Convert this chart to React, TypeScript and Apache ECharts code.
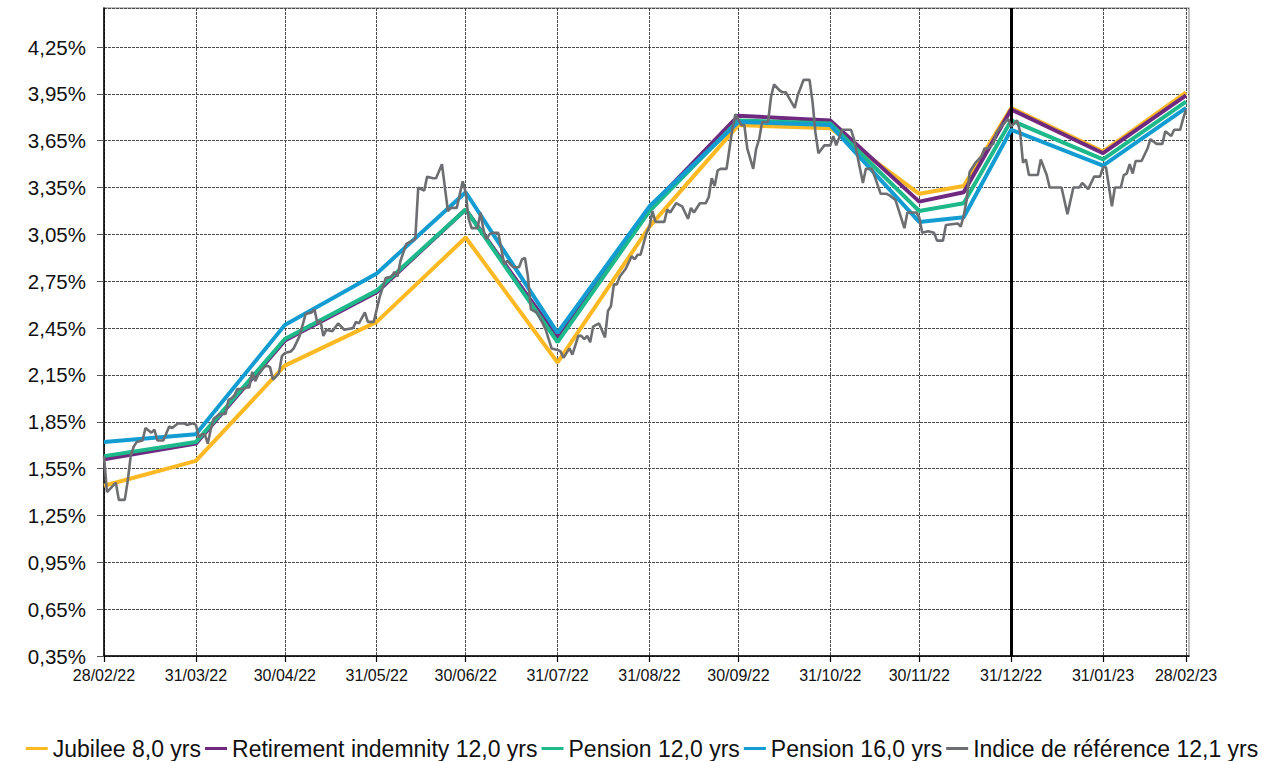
import React, { useEffect, useRef } from "react";
import * as echarts from "echarts";

// ---- Data ----
const tickLabels = [
  "28/02/22", "31/03/22", "30/04/22", "31/05/22", "30/06/22", "31/07/22",
  "31/08/22", "30/09/22", "31/10/22", "30/11/22", "31/12/22", "31/01/23", "28/02/23",
];

const modelDates = [
  "28/02/22", "31/03/22", "30/04/22", "31/05/22", "30/06/22", "31/07/22", "31/08/22",
  "30/09/22", "31/10/22", "30/11/22", "15/12/22", "31/12/22", "31/01/23", "28/02/23",
];
const jubilee = [1.44, 1.60, 2.21, 2.49, 3.03, 2.23, 3.10, 3.75, 3.73, 3.31, 3.36, 3.86, 3.58, 3.96];
const retirement = [1.61, 1.71, 2.37, 2.68, 3.21, 2.39, 3.22, 3.81, 3.78, 3.26, 3.32, 3.85, 3.57, 3.94];
const pension12 = [1.63, 1.72, 2.38, 2.69, 3.21, 2.36, 3.20, 3.78, 3.76, 3.20, 3.25, 3.78, 3.53, 3.90];
const pension16 = [1.72, 1.77, 2.47, 2.80, 3.32, 2.42, 3.23, 3.77, 3.75, 3.13, 3.16, 3.72, 3.49, 3.86];

// reference index: [days since 28/02/22, yield %]
const indexPoints: [number, number][] = [
  [0, 1.63], [1, 1.40], [3, 1.44], [4, 1.46], [5, 1.35], [7, 1.35], [8, 1.47], [9, 1.63], [10, 1.69], [11, 1.72],
  [13, 1.73], [14, 1.81], [16, 1.78], [17, 1.80], [18, 1.73], [20, 1.73], [22, 1.82], [23, 1.81], [25, 1.84], [27, 1.84],
  [28, 1.83], [30, 1.84], [31, 1.83], [32, 1.75], [33, 1.77], [34, 1.77], [35, 1.71], [36, 1.80], [37, 1.87], [39, 1.90],
  [41, 1.90], [42, 1.99], [43, 2.00], [44, 2.02], [45, 2.06], [47, 2.06], [48, 2.07], [49, 2.07], [50, 2.17], [51, 2.11],
  [52, 2.15], [54, 2.20], [55, 2.21], [56, 2.20], [57, 2.12], [59, 2.16], [60, 2.27], [61, 2.29], [63, 2.30], [64, 2.32],
  [66, 2.40], [68, 2.54], [70, 2.55], [71, 2.57], [72, 2.48], [73, 2.50], [74, 2.40], [75, 2.44], [77, 2.43], [79, 2.48],
  [81, 2.44], [84, 2.45], [85, 2.49], [86, 2.48], [88, 2.55], [89, 2.49], [91, 2.49], [93, 2.65], [95, 2.77], [97, 2.78],
  [98, 2.81], [99, 2.78], [100, 2.88], [102, 2.99], [104, 3.01], [105, 3.02], [106, 3.35], [108, 3.33], [109, 3.42], [111, 3.41],
  [112, 3.41], [114, 3.50], [116, 3.20], [117, 3.22], [119, 3.22], [121, 3.39], [122, 3.32], [123, 3.15], [124, 3.09], [126, 3.09],
  [127, 3.19], [128, 3.08], [129, 3.02], [130, 3.05], [131, 3.06], [133, 3.06], [135, 2.86], [136, 2.88], [138, 2.84], [140, 2.84],
  [141, 2.89], [142, 2.90], [143, 2.78], [144, 2.57], [146, 2.55], [148, 2.48], [149, 2.44], [150, 2.38], [151, 2.32], [153, 2.31],
  [154, 2.30], [155, 2.26], [156, 2.29], [157, 2.32], [158, 2.28], [160, 2.40], [161, 2.40], [162, 2.38], [163, 2.40], [164, 2.36],
  [165, 2.46], [166, 2.47], [167, 2.48], [169, 2.39], [170, 2.56], [171, 2.59], [172, 2.73], [173, 2.73], [174, 2.78], [176, 2.83],
  [178, 2.91], [179, 2.89], [180, 2.92], [181, 2.92], [183, 3.06], [184, 3.10], [185, 3.20], [186, 3.13], [189, 3.13], [190, 3.21],
  [191, 3.19], [193, 3.25], [195, 3.23], [197, 3.15], [198, 3.22], [199, 3.19], [201, 3.25], [203, 3.25], [204, 3.29], [205, 3.41],
  [206, 3.36], [207, 3.46], [208, 3.47], [210, 3.47], [211, 3.60], [212, 3.73], [213, 3.82], [215, 3.75], [216, 3.75], [217, 3.60],
  [219, 3.47], [220, 3.60], [221, 3.66], [222, 3.77], [224, 3.77], [225, 3.93], [226, 4.01], [228, 3.97], [229, 3.96], [230, 3.96],
  [233, 3.86], [234, 3.94], [236, 4.04], [238, 4.04], [239, 3.90], [240, 3.70], [241, 3.57], [243, 3.62], [245, 3.62], [246, 3.68],
  [247, 3.62], [249, 3.72], [252, 3.72], [253, 3.66], [256, 3.38], [257, 3.47], [259, 3.47], [260, 3.42], [262, 3.31], [264, 3.31],
  [265, 3.30], [267, 3.27], [268, 3.21], [270, 3.09], [271, 3.19], [274, 3.19], [275, 3.16], [276, 3.06], [278, 3.07], [280, 3.06],
  [281, 3.01], [283, 3.01], [284, 3.11], [288, 3.12], [289, 3.10], [290, 3.17], [291, 3.27], [292, 3.45], [294, 3.51], [296, 3.55],
  [297, 3.60], [298, 3.60], [300, 3.63], [301, 3.70], [303, 3.75], [304, 3.77], [305, 3.79], [306, 3.74], [308, 3.78], [309, 3.71],
  [310, 3.51], [311, 3.53], [312, 3.43], [315, 3.43], [316, 3.53], [318, 3.43], [319, 3.35], [323, 3.35], [325, 3.18], [327, 3.35],
  [329, 3.35], [330, 3.38], [332, 3.34], [334, 3.42], [336, 3.42], [337, 3.48], [338, 3.48], [340, 3.23], [341, 3.35], [343, 3.35],
  [344, 3.43], [345, 3.44], [346, 3.50], [347, 3.44], [348, 3.52], [350, 3.52], [352, 3.60], [353, 3.66], [355, 3.63], [357, 3.63],
  [358, 3.71], [360, 3.68], [361, 3.72], [363, 3.72], [364, 3.79], [365, 3.85],
];

const seriesNames = [
  "Jubilee 8,0 yrs",
  "Retirement indemnity 12,0 yrs",
  "Pension 12,0 yrs",
  "Pension 16,0 yrs",
  "Indice de référence 12,1 yrs",
];
const colors = ["#FDB924", "#6F2A80", "#1DB98A", "#129CD2", "#6D6E72"];

// ---- Helpers ----
const pad = (n: number) => (n < 10 ? "0" + n : "" + n);
const categories: string[] = [];
for (let i = 0; i <= 366; i++) {
  const d = new Date(2022, 1, 28 + i);
  categories.push(pad(d.getDate()) + "/" + pad(d.getMonth() + 1) + "/" + pad(d.getFullYear() % 100));
}
const catIndex: Record<string, number> = {};
categories.forEach((c, i) => (catIndex[c] = i));
const tickSet = new Set(tickLabels);

function modelSeries(vals: number[]) {
  const arr: (number | null)[] = new Array(categories.length).fill(null);
  modelDates.forEach((d, i) => (arr[catIndex[d]] = vals[i]));
  return arr;
}
function indexSeries() {
  const arr: (number | null)[] = new Array(categories.length).fill(null);
  indexPoints.forEach(([day, v]) => (arr[day] = v));
  return arr;
}

const FONT = "'Liberation Sans', Arial, sans-serif";

export default function App() {
  const ref = useRef<HTMLDivElement>(null);
  useEffect(() => {
    if (!ref.current) return;
    const chart = echarts.init(ref.current, undefined, { renderer: "svg" });
    const modelData = [jubilee, retirement, pension12, pension16].map(modelSeries);
    const lineSeries: any[] = modelData.map((data, i) => ({
      name: seriesNames[i],
      type: "line",
      data,
      connectNulls: true,
      showSymbol: false,
      symbol: "none",
      lineStyle: { color: colors[i], width: 4 },
      itemStyle: { color: colors[i] },
      z: 2 + i,
    }));
    lineSeries.push({
      name: seriesNames[4],
      type: "line",
      data: indexSeries(),
      connectNulls: true,
      showSymbol: false,
      symbol: "none",
      lineStyle: { color: colors[4], width: 2.6 },
      itemStyle: { color: colors[4] },
      z: 7,
      markLine: {
        silent: true,
        symbol: ["none", "none"],
        label: { show: false },
        lineStyle: { color: "#000", width: 3, type: "solid" },
        data: [{ xAxis: "31/12/22" }],
      },
    });
    chart.setOption({
      animation: false,
      textStyle: { fontFamily: FONT },
      grid: {
        left: 104,
        right: 95,
        top: 8,
        bottom: 105,
        show: true,
        borderColor: "#a8a8a8",
        borderWidth: 1.5,
      },
      legend: {
        data: seriesNames.map((n) => ({ name: n, icon: "rect" })),
        left: "center",
        top: 737,
        padding: 0,
        itemWidth: 22,
        itemHeight: 3,
        itemGap: 4,
        textStyle: { fontSize: 23, lineHeight: 23, color: "#111", fontFamily: FONT },
      },
      xAxis: {
        type: "category",
        data: categories,
        boundaryGap: false,
        axisLine: { lineStyle: { color: "#000", width: 1.5 } },
        axisTick: {
          interval: (_i: number, v: string) => tickSet.has(v),
          length: 6,
          lineStyle: { color: "#000", width: 1.2 },
        },
        axisLabel: {
          interval: (_i: number, v: string) => tickSet.has(v),
          fontSize: 16,
          color: "#111",
          margin: 11,
          fontFamily: FONT,
        },
        splitLine: {
          show: true,
          interval: (_i: number, v: string) => tickSet.has(v),
          lineStyle: { color: "#4a4a4a", width: 1, type: [3, 1] },
        },
      },
      yAxis: {
        type: "value",
        min: 0.35,
        max: 4.5,
        interval: 0.3,
        axisLine: { show: true, lineStyle: { color: "#000", width: 1.5 } },
        axisTick: { show: true, length: 7, lineStyle: { color: "#555" } },
        axisLabel: {
          margin: 18,
          showMaxLabel: false,
          fontSize: 20.5,
          color: "#111",
          fontFamily: FONT,
          formatter: (v: number) => v.toFixed(2).replace(".", ",") + "%",
        },
        splitLine: {
          show: true,
          lineStyle: { color: "#4a4a4a", width: 1, type: [3, 1] },
        },
      },
      series: lineSeries,
    });
    return () => chart.dispose();
  }, []);
  return (
    <div
      ref={ref}
      style={{ position: "fixed", left: 0, top: 0, width: "100vw", height: "100vh", background: "#fff" }}
    />
  );
}
